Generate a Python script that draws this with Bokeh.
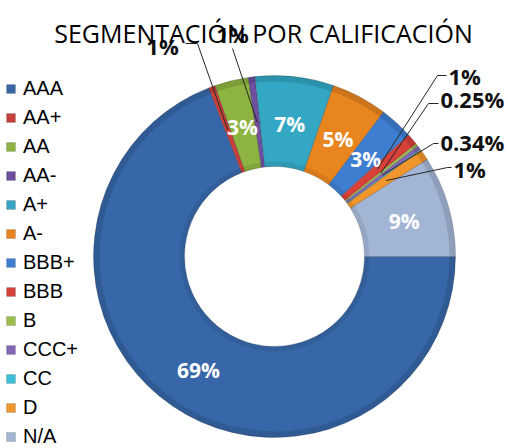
import math
from bokeh.plotting import figure
from bokeh.models import ColumnDataSource, Range1d
from bokeh.core.properties import value
from bokeh.embed import file_html
from bokeh.resources import INLINE

# ---- data ----
categories = ["AAA", "AA+", "AA", "AA-", "A+", "A-", "BBB+", "BBB", "B", "CCC+", "CC", "D", "N/A"]
shares = [69, 0.6, 3, 0.6, 7, 5, 3, 1, 0.25, 0.34, 0.1, 1, 9]
pct_labels = ["69%", "1%", "3%", "1%", "7%", "5%", "3%", "1%", "0.25%", "0.34%", "", "1%", "9%"]
colors = ["#3767A8", "#C8403C", "#8DB440", "#6F4FA0", "#33A7C4", "#E9851F",
          "#3D7ED0", "#D8403A", "#9BC050", "#8466B8", "#3CC0D8", "#F0962A", "#A3B5D5"]
title_text = "SEGMENTACIÓN POR CALIFICACIÓN"

# ---- layout (image pixel coordinates, y down) ----
W, H = 508, 448
CX, CY = 274, 256
R_OUT, R_IN, R_LBL = 181, 90, 135
FIRST_ANGLE = 90.0  # degrees clockwise from 12 o'clock


def ydata(y_img):
    return H - y_img


p = figure(width=W, height=H, output_backend="svg", toolbar_location=None,
           x_range=Range1d(0, W), y_range=Range1d(0, H),
           x_axis_type=None, y_axis_type=None, min_border=0)
p.outline_line_color = None
p.grid.visible = False
p.background_fill_color = "white"
p.border_fill_color = "white"

total = sum(shares)
starts, ends, mids = [], [], []
acc = 0.0
for s in shares:
    t1 = FIRST_ANGLE + acc / total * 360.0
    acc += s
    t2 = FIRST_ANGLE + acc / total * 360.0
    starts.append(math.radians(90.0 - t2))
    ends.append(math.radians(90.0 - t1))
    mids.append((t1 + t2) / 2.0)

src = ColumnDataSource(dict(cat=categories, start=starts, end=ends, color=colors))
p.annular_wedge(x=CX, y=ydata(CY), inner_radius=R_IN, outer_radius=R_OUT,
                start_angle="start", end_angle="end", fill_color="color",
                line_color="#000000", line_alpha=0.25, line_width=0.7,
                legend_field="cat", source=src)

# subtle bevel shading
p.annulus(x=CX, y=ydata(CY), inner_radius=R_OUT - 6, outer_radius=R_OUT,
          fill_color="black", fill_alpha=0.12, line_color=None)
p.annulus(x=CX, y=ydata(CY), inner_radius=R_IN, outer_radius=R_IN + 5,
          fill_color="black", fill_alpha=0.08, line_color=None)


def slice_point(i, r=R_LBL):
    t = math.radians(mids[i])
    return CX + r * math.sin(t), CY - r * math.cos(t)


# inside labels
inside = [0, 2, 4, 5, 6, 12]
ix, iy, it = [], [], []
for i in inside:
    x, y = slice_point(i)
    ix.append(x)
    iy.append(ydata(y + 2))
    it.append(pct_labels[i])
p.text(x=ix, y=iy, text=it, text_align="center", text_baseline="middle",
       text_color="white", text_font=value("Open Sans"), text_font_style="bold",
       text_font_size="21px")

# outside labels: (index, text x, text y centre, align, leader start points)
outside = [
    (1, 162, 46, "center", [(185, 43), (197, 43)]),
    (3, 232, 34, "center", [(232, 48)]),
    (7, 448, 76, "left", [(446, 75), (437, 75)]),
    (8, 440, 99, "left", [(438, 103), (428, 103)]),
    (9, 440, 142, "left", [(438, 143), (433, 143)]),
    (11, 453, 169, "left", [(451, 167), (447, 167)]),
]
ox, oy, ot, oa = [], [], [], []
lxs, lys = [], []
for i, tx, ty, al, pts in outside:
    ox.append(tx)
    oy.append(ydata(ty - 1))
    ot.append(pct_labels[i])
    oa.append(al)
    ex, ey = slice_point(i)
    xs = [q[0] for q in pts] + [ex]
    ys = [ydata(q[1]) for q in pts] + [ydata(ey)]
    lxs.append(xs)
    lys.append(ys)
p.multi_line(xs=lxs, ys=lys, line_color="#262626", line_width=1)
p.text(x=ox, y=oy, text=ot, text_align=oa, text_baseline="middle",
       text_color="#111111", text_font=value("Open Sans"), text_font_style="bold",
       text_font_size="22px")

# title
p.text(x=[263], y=[ydata(32)], text=[title_text], text_align="center",
       text_baseline="alphabetic", text_color="#000000",
       text_font=value("Open Sans"), text_font_size="25px")

# legend
lg = p.legend[0]
lg.location = (5, 0)
lg.margin = 0
lg.padding = 0
lg.spacing = 6
lg.glyph_width = 11
lg.glyph_height = 11
lg.label_height = 20
lg.label_standoff = 7
lg.label_text_font = "Liberation Sans"
lg.label_text_font_size = "20px"
lg.label_text_color = "#000000"
lg.border_line_alpha = 0
lg.background_fill_alpha = 0

open("out.html", "w").write(file_html(p, INLINE))
